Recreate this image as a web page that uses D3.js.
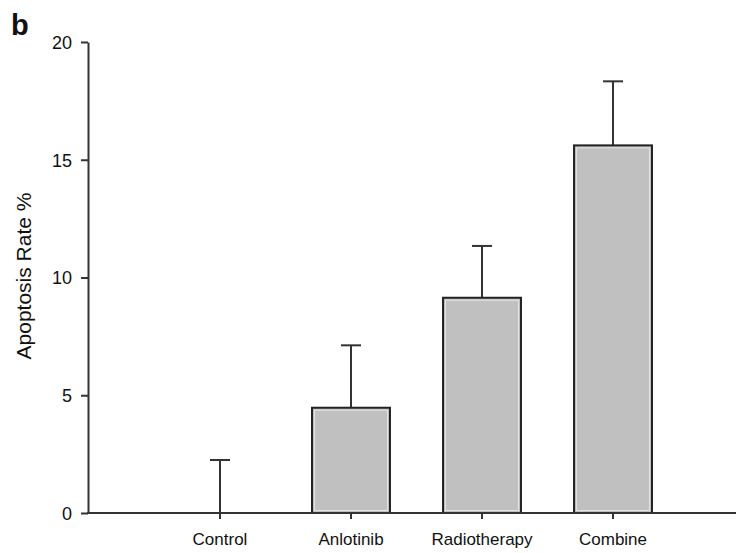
<!DOCTYPE html>
<html>
<head>
<meta charset="utf-8">
<script src="https://cdn.jsdelivr.net/npm/d3@7"></script>
<style>
  body { margin: 0; background: #fff; }
  svg { display: block; font-family: "Liberation Sans", Arial, sans-serif; }
  .axis path, .axis line { stroke: #333; stroke-width: 2; }
  .axis text { fill: #111; font-size: 17px; }
  .y-axis text { font-size: 18px; }
</style>
</head>
<body>
<div id="chart"></div>
<script>
// values
const groups = ["Control", "Anlotinib", "Radiotherapy", "Combine"];
const rates = [0, 4.47, 9.14, 15.61];
const errors = [2.25, 2.65, 2.2, 2.72];
const yTicks = [0, 5, 10, 15, 20];

const W = 736, H = 553;
const svg = d3.select("#chart").append("svg")
    .attr("width", W)
    .attr("height", H);

// scales
const x = d3.scaleBand()
    .domain(groups)
    .range([88, 745])
    .paddingInner(0.405)
    .paddingOuter(0.71);

const y = d3.scaleLinear()
    .domain([0, 20])
    .range([513, 42]);

const data = groups.map((g, i) => ({ name: g, value: rates[i], err: errors[i] }));

// error bars (upper only), drawn first so the bar outline sits on top
const capW = 20;
const eb = svg.append("g").attr("stroke", "#333").attr("stroke-width", 2);
eb.selectAll(".stem")
    .data(data)
    .enter().append("line")
    .attr("x1", d => x(d.name) + x.bandwidth() / 2)
    .attr("x2", d => x(d.name) + x.bandwidth() / 2)
    .attr("y1", d => y(d.value))
    .attr("y2", d => y(d.value + d.err));
eb.selectAll(".cap")
    .data(data)
    .enter().append("line")
    .attr("x1", d => x(d.name) + x.bandwidth() / 2 - capW / 2)
    .attr("x2", d => x(d.name) + x.bandwidth() / 2 + capW / 2)
    .attr("y1", d => y(d.value + d.err))
    .attr("y2", d => y(d.value + d.err));

// bars
const bars = svg.append("g");
bars.selectAll("rect.bar")
    .data(data.filter(d => d.value > 0))
    .enter().append("rect")
    .attr("class", "bar")
    .attr("x", d => x(d.name))
    .attr("y", d => y(d.value))
    .attr("width", x.bandwidth())
    .attr("height", d => y(0) - y(d.value))
    .attr("fill", "#c0c0c0")
    .attr("stroke", "#222")
    .attr("stroke-width", 2);
// faint inner highlight like the original
bars.selectAll("rect.hl")
    .data(data.filter(d => d.value > 0))
    .enter().append("rect")
    .attr("class", "hl")
    .attr("x", d => x(d.name) + 2.5)
    .attr("y", d => y(d.value) + 2.5)
    .attr("width", x.bandwidth() - 5)
    .attr("height", d => y(0) - y(d.value) - 5)
    .attr("fill", "none")
    .attr("stroke", "#e4e4e4")
    .attr("stroke-width", 1);

// axes
svg.append("g")
    .attr("class", "axis y-axis")
    .attr("transform", "translate(88,0)")
    .call(d3.axisLeft(y).tickValues(yTicks).tickSize(7).tickSizeOuter(0).tickPadding(9))
    .call(g => g.selectAll(".tick text").attr("dy", "0.36em"));

svg.append("g")
    .attr("class", "axis")
    .attr("transform", `translate(0,${y(0)})`)
    .call(d3.axisBottom(x).tickSize(6).tickSizeOuter(0).tickPadding(14))
    .call(g => g.select(".domain").attr("d", `M87,0H${W}`));

// y axis title
svg.append("text")
    .attr("transform", `translate(31,276) rotate(-90)`)
    .attr("text-anchor", "middle")
    .attr("font-size", 21)
    .attr("fill", "#111")
    .text("Apoptosis Rate %");

// panel letter
svg.append("text")
    .attr("x", 11)
    .attr("y", 35)
    .attr("font-size", 29)
    .attr("font-weight", "bold")
    .attr("fill", "#111")
    .text("b");
</script>
</body>
</html>
